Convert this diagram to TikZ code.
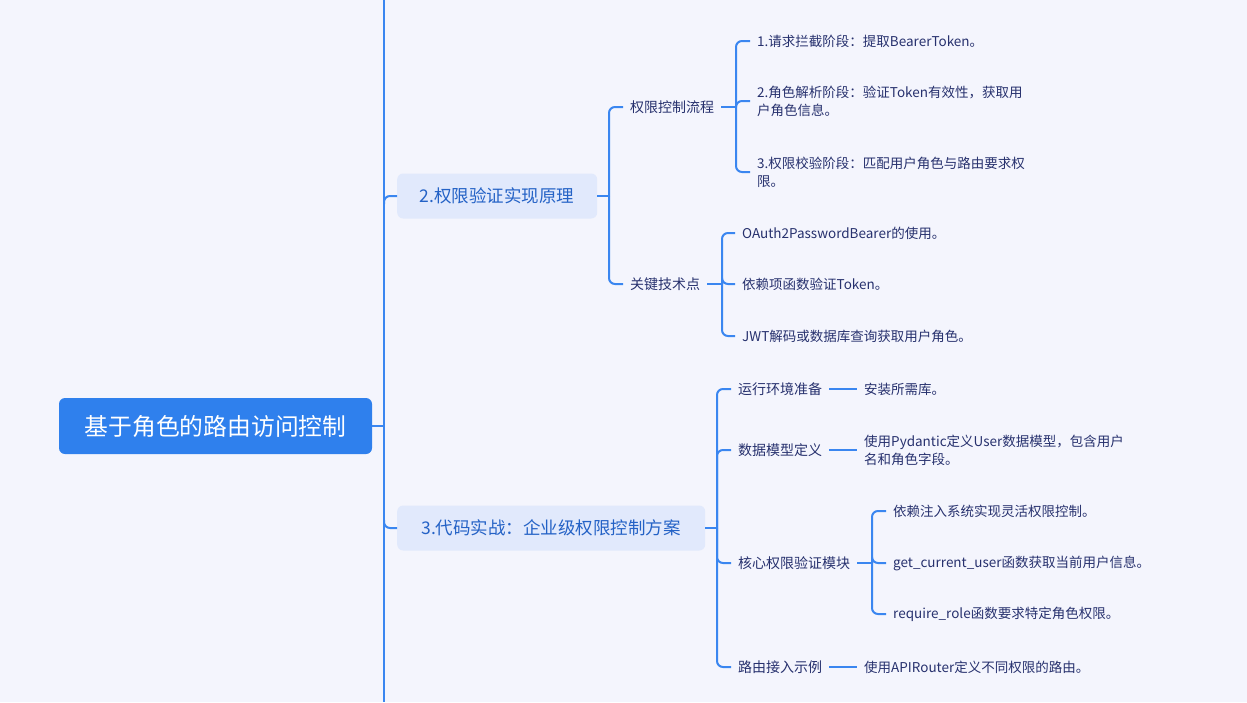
\documentclass[tikz,border=0pt]{standalone}
\usepackage{fontspec}
\setmainfont{Noto Sans CJK SC}
\usepackage{xcolor}
\usepackage{tikz}
\definecolor{paper}{HTML}{F4F5FD}
\definecolor{wire}{HTML}{3A86F0}
\definecolor{rootblue}{HTML}{2F80ED}
\definecolor{branchfill}{HTML}{E1E9FC}
\definecolor{branchtext}{HTML}{2462C6}
\definecolor{navy}{HTML}{27316E}

\begin{document}
\begin{tikzpicture}[
  x=1pt, y=-1pt,
  link/.style={draw=wire, line width=2pt},
  rootbox/.style={rectangle, rounded corners=6pt, fill=rootblue, text=white,
    minimum height=56pt, minimum width=313pt, font=\fontsize{23.8}{28}\selectfont},
  branch/.style={rectangle, rounded corners=6pt, fill=branchfill, text=branchtext,
    minimum height=45pt, inner xsep=20pt, anchor=west, font=\fontsize{17.5}{21}\selectfont},
  topic/.style={anchor=west, text=navy, inner xsep=7pt, inner ysep=2pt,
    font=\fontsize{14}{18}\selectfont},
  leaf/.style={anchor=west, text=navy, inner xsep=7pt, inner ysep=2pt, align=left,
    font=\fontsize{13.5}{18}\selectfont}
]
\useasboundingbox[fill=paper] (0,0) rectangle (1247,702);

% root and main trunk
\node[rootbox] (root) at (215.5,426) {基于角色的路由访问控制};
\coordinate (ttop) at (384,0);
\coordinate (tbot) at (384,702);
\draw[link] (ttop) -- (tbot);
\draw[link] (root.east) -- (root.east -| ttop);

% branch 2
\node[branch, minimum width=200pt] (auth) at (397,196) {2.权限验证实现原理};
\node[topic] (flow) at (623,107) {权限控制流程};
\node[topic] (keys) at (623,284) {关键技术点};

\node[leaf] (flow1) at (750,41) {1.请求拦截阶段：提取BearerToken。};
\node[leaf] (flow2) at (750,101) {2.角色解析阶段：验证Token有效性，获取用\\户角色信息。};
\node[leaf] (flow3) at (750,172) {3.权限校验阶段：匹配用户角色与路由要求权\\限。};

\node[leaf] (keys1) at (735,233) {OAuth2PasswordBearer的使用。};
\node[leaf] (keys2) at (735,284) {依赖项函数验证Token。};
\node[leaf] (keys3) at (735,336) {JWT解码或数据库查询获取用户角色。};

% branch 3
\node[branch, minimum width=308pt] (code) at (397,528) {3.代码实战：企业级权限控制方案};
\node[topic] (env) at (731,389) {运行环境准备};
\node[topic] (model) at (731,450) {数据模型定义};
\node[topic] (core) at (731,563) {核心权限验证模块};
\node[topic] (route) at (731,667) {路由接入示例};

\node[leaf] (env1) at (857,389) {安装所需库。};
\node[leaf] (model1) at (857,450) {使用Pydantic定义User数据模型，包含用户\\名和角色字段。};
\node[leaf] (core1) at (886,511) {依赖注入系统实现灵活权限控制。};
\node[leaf] (core2) at (886,563) {get\_current\_user函数获取当前用户信息。};
\node[leaf] (core3) at (886,614) {require\_role函数要求特定角色权限。};
\node[leaf] (route1) at (857,667) {使用APIRouter定义不同权限的路由。};

% junctions
\coordinate (authj) at (609,196);
\coordinate (flowj) at (736,107);
\coordinate (keysj) at (722,284);
\coordinate (codej) at (717,528);
\coordinate (corej) at (872,563);

% connectors
\draw[link, rounded corners=6pt] (auth.west -| ttop) ++(0,8) |- (auth.west);
\draw[link, rounded corners=6pt] (code.west -| ttop) ++(0,-8) |- (code.west);

\draw[link] (auth.east) -- (authj);
\foreach \n in {flow,keys}
  \draw[link, rounded corners=6pt] (authj) |- (\n.west);

\draw[link] (flow.east) -- (flowj);
\foreach \n in {flow1,flow2,flow3}
  \draw[link, rounded corners=6pt] (flowj) |- (\n.west);

\draw[link] (keys.east) -- (keysj);
\foreach \n in {keys1,keys2,keys3}
  \draw[link, rounded corners=6pt] (keysj) |- (\n.west);

\draw[link] (code.east) -- (codej);
\foreach \n in {env,model,core,route}
  \draw[link, rounded corners=6pt] (codej) |- (\n.west);

\draw[link] (env.east) -- (env1.west);
\draw[link] (model.east) -- (model1.west);
\draw[link] (route.east) -- (route1.west);

\draw[link] (core.east) -- (corej);
\foreach \n in {core1,core2,core3}
  \draw[link, rounded corners=6pt] (corej) |- (\n.west);

\end{tikzpicture}
\end{document}
